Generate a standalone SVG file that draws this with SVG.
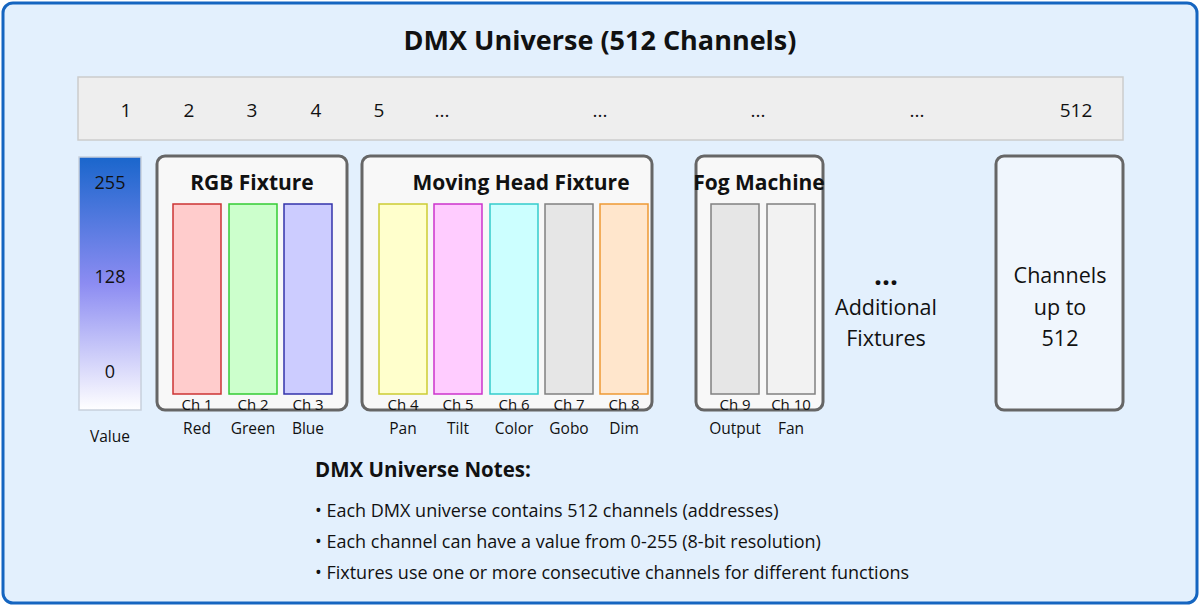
<svg xmlns="http://www.w3.org/2000/svg" width="1200" height="606" viewBox="0 0 1200 606">
<defs>
<linearGradient id="vg" x1="0" y1="0" x2="0" y2="1">
<stop offset="0" stop-color="#1a66cc"/>
<stop offset="0.5" stop-color="#8c8cf2"/>
<stop offset="1" stop-color="#ffffff"/>
</linearGradient>
<style>
text{font-family:"Open Sans","Liberation Sans",sans-serif;fill:#111}
.t{font-size:27px;font-weight:bold;text-anchor:middle}
.num{font-size:19px;text-anchor:middle}
.fx{fill:#f8f8f8;stroke:#666;stroke-width:3}
.ft{font-size:21px;font-weight:bold;text-anchor:middle}
.ch{font-size:15px;text-anchor:middle}
.lb{font-size:15.5px;text-anchor:middle}
.big{font-size:21.5px;text-anchor:middle}
.nt{font-size:20.5px;font-weight:bold}
.nb{font-size:18px}
.c{stroke-width:1.5}
</style>
</defs>
<rect x="3" y="3" width="1194" height="600" rx="10" fill="#e3f0fd" stroke="#1565c0" stroke-width="3"/>
<text class="t" x="600" y="50">DMX Universe (512 Channels)</text>

<g id="channel-bar">
<rect x="78" y="77" width="1045" height="63" fill="#eeeeee" stroke="#cccccc" stroke-width="1.5"/>
<text class="num" x="126" y="117">1</text>
<text class="num" x="189" y="117">2</text>
<text class="num" x="252" y="117">3</text>
<text class="num" x="316" y="117">4</text>
<text class="num" x="379" y="117">5</text>
<text class="num" x="442" y="117">...</text>
<text class="num" x="600" y="117">...</text>
<text class="num" x="758" y="117">...</text>
<text class="num" x="917" y="117">...</text>
<text class="num" x="1076" y="117">512</text>
</g>

<g id="value-scale">
<rect x="79" y="157" width="62" height="253" fill="url(#vg)" stroke="#c8d0dc" stroke-width="1.5"/>
<text class="num" x="110" y="189" style="font-size:18px">255</text>
<text class="num" x="110" y="283" style="font-size:18px">128</text>
<text class="num" x="110" y="378" style="font-size:18px">0</text>
<text class="lb" x="110" y="442">Value</text>
</g>

<g id="rgb-fixture">
<rect class="fx" x="157" y="156" width="190" height="254" rx="8"/>
<text class="ft" x="252" y="190">RGB Fixture</text>
<rect class="c" x="173" y="204" width="48" height="190" fill="#ffcccc" stroke="#cc3333"/>
<rect class="c" x="229" y="204" width="48" height="190" fill="#ccffcc" stroke="#33cc33"/>
<rect class="c" x="284" y="204" width="48" height="190" fill="#ccccff" stroke="#3333aa"/>
<text class="ch" x="197" y="410">Ch 1</text>
<text class="ch" x="253" y="410">Ch 2</text>
<text class="ch" x="308" y="410">Ch 3</text>
<text class="lb" x="197" y="434">Red</text>
<text class="lb" x="253" y="434">Green</text>
<text class="lb" x="308" y="434">Blue</text>
</g>

<g id="moving-head-fixture">
<rect class="fx" x="362" y="156" width="290" height="254" rx="8"/>
<text class="ft" x="521" y="190">Moving Head Fixture</text>
<rect class="c" x="379" y="204" width="48" height="190" fill="#ffffcc" stroke="#cccc33"/>
<rect class="c" x="434" y="204" width="48" height="190" fill="#ffccff" stroke="#cc33cc"/>
<rect class="c" x="490" y="204" width="48" height="190" fill="#ccffff" stroke="#33cccc"/>
<rect class="c" x="545" y="204" width="48" height="190" fill="#e6e6e6" stroke="#808080"/>
<rect class="c" x="600" y="204" width="48" height="190" fill="#ffe6cc" stroke="#ee9933"/>
<text class="ch" x="403" y="410">Ch 4</text>
<text class="ch" x="458" y="410">Ch 5</text>
<text class="ch" x="514" y="410">Ch 6</text>
<text class="ch" x="569" y="410">Ch 7</text>
<text class="ch" x="624" y="410">Ch 8</text>
<text class="lb" x="403" y="434">Pan</text>
<text class="lb" x="458" y="434">Tilt</text>
<text class="lb" x="514" y="434">Color</text>
<text class="lb" x="569" y="434">Gobo</text>
<text class="lb" x="624" y="434">Dim</text>
</g>

<g id="fog-machine">
<rect class="fx" x="696" y="156" width="127" height="254" rx="8"/>
<text class="ft" x="759" y="190">Fog Machine</text>
<rect class="c" x="711" y="204" width="48" height="190" fill="#e6e6e6" stroke="#808080"/>
<rect class="c" x="767" y="204" width="48" height="190" fill="#f2f2f2" stroke="#808080"/>
<text class="ch" x="735" y="410">Ch 9</text>
<text class="ch" x="791" y="410">Ch 10</text>
<text class="lb" x="735" y="434">Output</text>
<text class="lb" x="791" y="434">Fan</text>
</g>

<g id="additional-fixtures">
<text class="big" x="886" y="285" style="font-weight:bold;font-size:28px">...</text>
<text class="big" x="886" y="315">Additional</text>
<text class="big" x="886" y="346">Fixtures</text>
</g>

<g id="channels-512">
<rect class="fx" x="996" y="156" width="127" height="254" rx="8" style="fill:#f0f6fd"/>
<text class="big" x="1060" y="283">Channels</text>
<text class="big" x="1060" y="315">up to</text>
<text class="big" x="1060" y="346">512</text>
</g>

<g id="notes">
<text class="nt" x="315" y="477">DMX Universe Notes:</text>
<text class="nb" x="315" y="517">• Each DMX universe contains 512 channels (addresses)</text>
<text class="nb" x="315" y="548">• Each channel can have a value from 0-255 (8-bit resolution)</text>
<text class="nb" x="315" y="579">• Fixtures use one or more consecutive channels for different functions</text>
</g>
<g id="connectors"/>
</svg>
